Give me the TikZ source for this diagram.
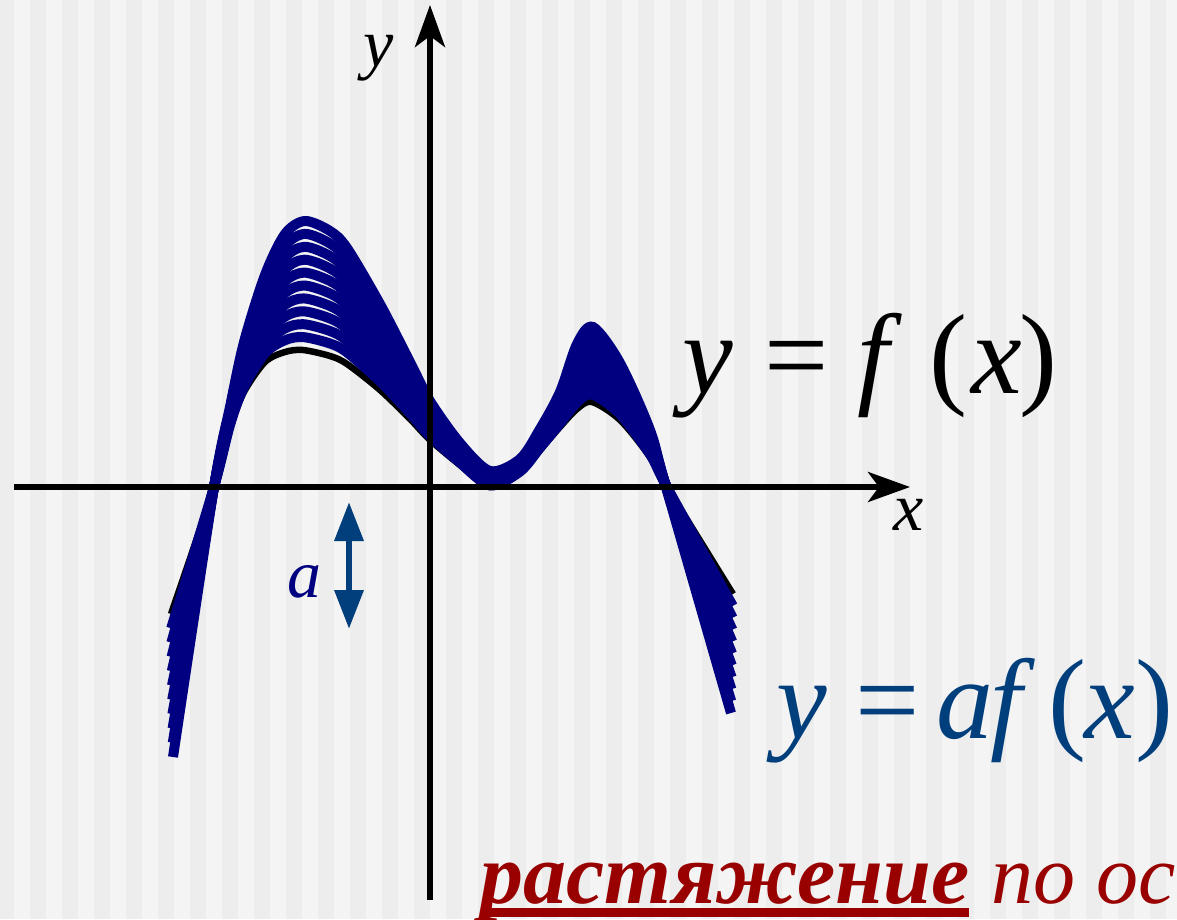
\documentclass[tikz,border=0pt]{standalone}
\usepackage{fontspec}
\setmainfont{Liberation Serif}
\usetikzlibrary{arrows.meta}
\definecolor{stripeA}{RGB}{237,237,237}
\definecolor{stripeB}{RGB}{244,244,244}
\definecolor{curvenavy}{RGB}{0,0,128}
\definecolor{labelblue}{RGB}{0,62,124}
\definecolor{darkred}{RGB}{153,0,0}
% family curve: #1 = style, #2 = s (0 = f, 1 = top of the family)
\newcommand\famcurve[2]{\draw[#1] plot[smooth] coordinates {
 ({-259+2*#2},{-127-143*#2})
 (-216,0)
 (-200,{60+20*#2})
 (-186,{95+50*#2})
 (-165,{125+87*#2})
 (-145,{135+118*#2})
 ({-127+2*#2},{137+129*#2})
 (-100,{131+125*#2})
 (-83,{123+116*#2})
 (-50,{97+86*#2})
 (-20,{68+57*#2})
 (0,{47+39*#2})
 (30,{22+22*#2})
 (60,{16*#2})
 (90,{14+14*#2})
 (110,{37+21*#2})
 (130,{60+35*#2})
 (147,{78+65*#2})
 ({162+#2},{85+75*#2})
 (190,{67+57*#2})
 (220,{30+27*#2})
 ({237-#2},0)
 ({303-2*#2},{-107-119*#2})
};}
\tikzset{
 axisline/.style={line width=5.5pt,black,-{Stealth[length=42pt,width=30pt,inset=11pt]}},
 fcurve/.style={line width=6.5pt,black},
 acurve/.style={line width=10pt,curvenavy},
 smalllbl/.style={inner sep=0pt,anchor=base west,font=\fontsize{68}{68}\selectfont\itshape},
 biglbl/.style={inner sep=0pt,anchor=base west,font=\fontsize{114}{114}\selectfont},
 darr/.style={line width=6.5pt,labelblue,{Triangle[length=39pt,width=28pt]}-{Triangle[length=39pt,width=28pt]}},
 redtxt/.style={inner sep=0pt,anchor=base west,text=darkred,font=\fontsize{84}{84}\selectfont\itshape}
}
\begin{document}
\begin{tikzpicture}[x=1pt,y=1pt]
\useasboundingbox (-430,-432) rectangle (747,487);
% striped background
\fill[stripeA] (-430,-432) rectangle (747,487);
\foreach \k in {0,...,36} \fill[stripeB] ({-416+32*\k},-432) rectangle ++(16,919);
% curves
\famcurve{fcurve}{0}
\foreach \k in {10,9,...,1} {\pgfmathsetmacro\s{\k/10}\famcurve{acurve}{\s}}
% axes
\coordinate (xs) at (-416,0);
\coordinate (xe) at (480,0);
\coordinate (ys) at (0,-413);
\coordinate (ye) at (0,482);
\draw[axisline] (xs) -- (xe);
\draw[axisline] (ys) -- (ye);
% labels
\node[smalllbl] (ylab) at (-67,420) {y};
\node[smalllbl] (xlab) at (463,-43) {x};
\node[smalllbl,text=curvenavy] (alab) at (-143,-110) {a};
\coordinate (a1) at (-81,-15);
\coordinate (a2) at (-81,-142);
\draw[darr] (a1) -- (a2);
\node[biglbl] (feq) at (252,94)
 {\textit{y}\kern0.03em\ =\ \textit{f}\kern0.24em(\kern0.03em\textit{x}\kern-0.02em)};
\node[biglbl,text=labelblue] (afeq) at (346,-251)
 {\textit{y} =\ \kern-0.1em\textit{a}\kern-0.03em\textit{f}\kern0.12em(\kern-0.02em\textit{x}\kern0em)};
\node[redtxt,font=\fontsize{86}{86}\selectfont\bfseries\itshape] (word) at (50,-416) {растяжение};
\node[redtxt] (rest) at ([xshift=22pt]word.base east) {по ос};
\draw[darkred,line width=8.5pt] ([shift={(3pt,-9.5pt)}]word.base west) -- ([yshift=-9.5pt]word.base east);
\end{tikzpicture}
\end{document}
